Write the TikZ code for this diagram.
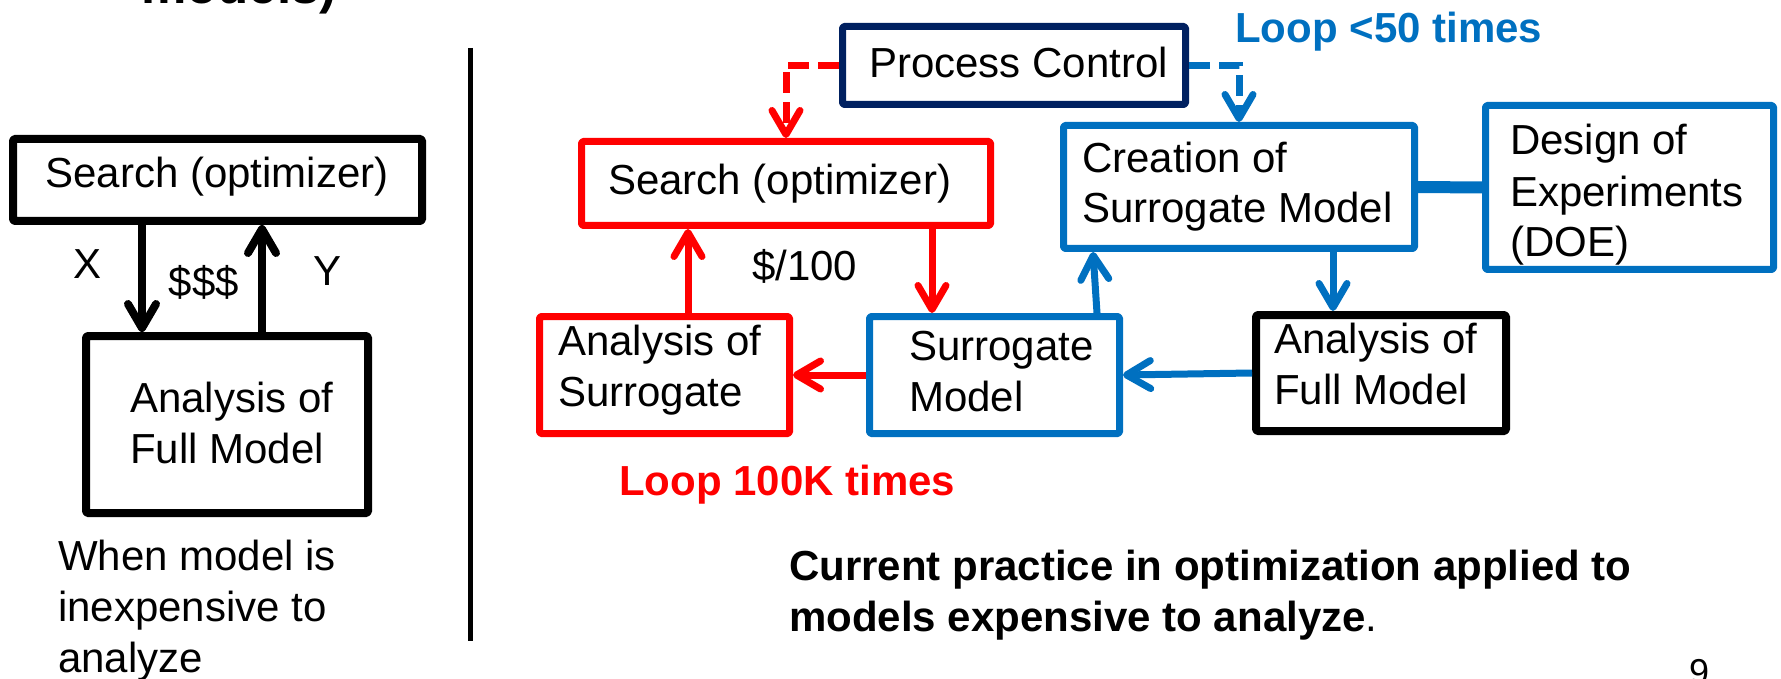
\documentclass[tikz,border=0pt]{standalone}
\usepackage{fontspec}
\setmainfont{Liberation Sans}
\usetikzlibrary{arrows.meta,calc}
\definecolor{rd}{HTML}{FF0000}
\definecolor{bl}{HTML}{0070C0}
\definecolor{nv}{HTML}{002060}

\begin{document}
\begin{tikzpicture}[x=1pt,y=-1pt,
  box/.style={draw, line width=7pt, line join=round, rounded corners=1.5pt,
              inner sep=0pt, fill=white},
  % multi-line texts: the base anchor sits on the last line
  txt/.style={anchor=base west, inner sep=0pt, align=left,
              font=\fontsize{42}{51}\selectfont},
  lbl/.style={anchor=base, inner sep=0pt, font=\fontsize{42}{51}\selectfont},
  arr/.style={-{Straight Barb[length=24pt,width=28pt,line cap=round,line join=round]},
              line width=7pt},
  dsh/.style={dash pattern=on 21pt off 9pt}
]
\useasboundingbox (0,0) rectangle (1781,679);
\clip (0,0) rectangle (1781,679);

% heading cut at the top edge
\node[anchor=base west, inner sep=0pt, font=\fontsize{51}{60}\selectfont\bfseries]
  (head) at (141,4) {models)};

% ---------- left: direct optimization ----------
\node[box, line width=8pt, minimum width=409pt, minimum height=82pt] (lsearch) at (217.5,180) {};
\node[box, line width=8pt, minimum width=282pt, minimum height=177pt] (lana) at (227,424.5) {};
\node[lbl] (lsearchT) at (217,188) {Search (optimizer)};
\node[txt] (lanaT) at (130,463) {Analysis of\\Full Model};

\draw[arr, line width=8pt] ([xshift=-75.5pt]lsearch.south) -- ([xshift=-75.5pt]lsearch.south |- lana.north);
\draw[arr, line width=8pt] ([xshift=35pt]lana.north) -- ([xshift=35pt]lana.north |- lsearch.south);
\node[lbl] (xlab) at (88,278) {X};
\node[lbl] (costlab) at (204,296) {\$\$\$};
\node[lbl] (ylab) at (328,286) {Y};

\node[txt] (cheap) at (58,672) {When model is\\inexpensive to\\analyze};

% divider
\draw[line width=5pt] (470,48) -- (470,641);

% ---------- right: surrogate-based optimization ----------
\node[box, draw=nv, minimum width=343pt, minimum height=78pt] (pc) at (1014,65.5) {};
\node[box, draw=rd, minimum width=409pt, minimum height=84pt] (rsearch) at (786,183.5) {};
\node[box, draw=bl, minimum width=351pt, minimum height=123pt] (creation) at (1239,187) {};
\node[box, draw=bl, minimum width=288pt, minimum height=164pt] (doe) at (1629.5,187.5) {};
\node[box, draw=rd, minimum width=250pt, minimum height=117pt] (asur) at (664.5,375) {};
\node[box, draw=bl, minimum width=250pt, minimum height=117pt] (smod) at (994.5,375) {};
\node[box, line width=8pt, minimum width=250pt, minimum height=116pt] (afull) at (1381,373) {};

\node[txt] (pcT) at (869,78) {Process Control};
\node[txt] (rsearchT) at (608,195) {Search (optimizer)};
\node[txt] (creationT) at (1082,223) {Creation of\\Surrogate Model};
\node[txt] (doeT) at (1510,257) {Design of\\Experiments\\(DOE)};
\node[txt] (asurT) at (558,406) {Analysis of\\Surrogate};
\node[txt] (smodT) at (909,411) {Surrogate\\Model};
\node[txt] (afullT) at (1274,404) {Analysis of\\Full Model};

% control flow from the process controller
\draw[arr, rd, dsh] (pc.west) -| (rsearch.north);
\draw[arr, bl, dsh] (pc.east) -| (creation.north);

% inner loop (surrogate)
\draw[arr, rd] ([xshift=23.5pt]asur.north) -- ([xshift=23.5pt]asur.north |- rsearch.south);
\draw[arr, rd] ([xshift=146pt]rsearch.south) -- ([xshift=146pt]rsearch.south |- smod.north);
\draw[arr, rd] (smod.west) -- (asur.east);
\node[txt] (centlab) at (752,280) {\$/100};

% outer loop (full model)
\draw[arr, bl] ([xshift=102.5pt]smod.north) -- ([xshift=-146pt]creation.south);
\draw[arr, bl] ([xshift=94pt]creation.south) -- ([xshift=94pt]creation.south |- afull.north);
\draw[arr, bl] (afull.west) -- (smod.east);
\draw[bl, line width=12pt] (creation.east) -- (doe.west);

\node[txt, font=\fontsize{42}{51}\selectfont\bfseries, text=bl] (outerlab) at (1235,43) {Loop <50 times};
\node[txt, font=\fontsize{42}{51}\selectfont\bfseries, text=rd] (innerlab) at (619,495) {Loop 100K times};

\node[txt] (caption) at (789,631)
  {\textbf{Current practice in optimization applied to}\\\textbf{models expensive to analyze}.};

\node[anchor=base west, inner sep=0pt, font=\fontsize{36}{43}\selectfont] (pagenum) at (1689,684) {9};
\end{tikzpicture}
\end{document}
